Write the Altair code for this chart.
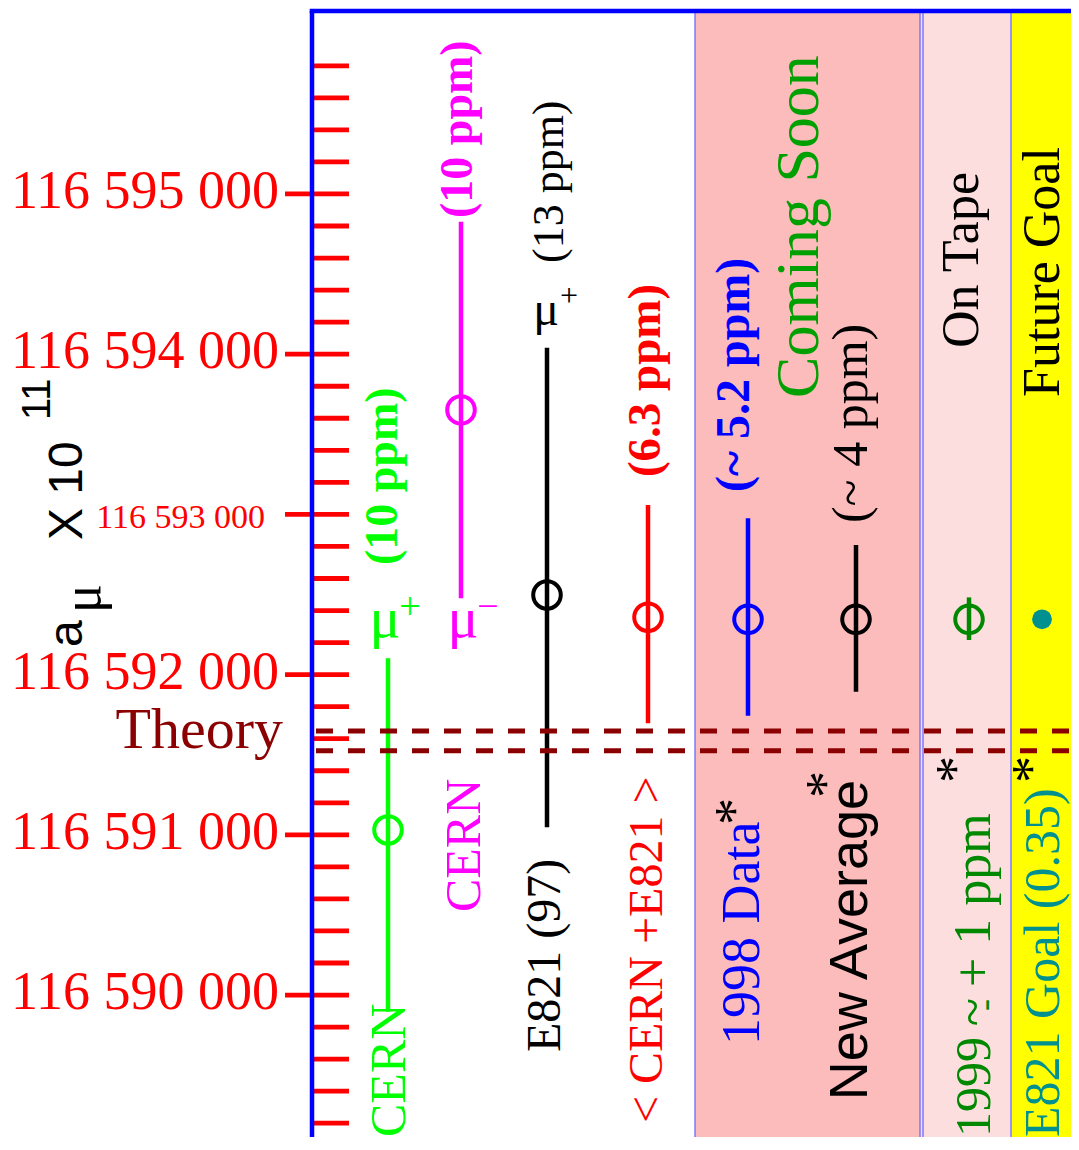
import altair as alt
import pandas as pd

# ---------------- data ----------------
experiments = ["CERN mu+", "CERN mu-", "E821 (97) mu+", "<CERN+E821>",
               "1998 Data", "New Average", "1999", "E821 Goal"]
central = [116591030, 116593652, 116592497, 116592358,
           116592345, 116592345, 116592345, 116592345]
err_low = [116589896, 116592476, 116591047, 116591696,
           116591743, 116591893, 116592216, 116592345]
err_high = [116592102, 116594827, 116594040, 116593059,
            116592976, 116592809, 116592482, 116592345]
theory_lines = [116591648, 116591525]

major_values = [116590000, 116591000, 116592000, 116593000, 116594000, 116595000]
major_labels = ["116 590 000", "116 591 000", "116 592 000",
                "116 593 000", "116 594 000", "116 595 000"]
minor_values = [116589200 + 200 * i for i in range(34)]

# ---------------- layout / style ----------------
Y_MIN, Y_MAX = 116589114, 116596142
X_MIN, X_MAX = 312, 1071
W, H = 759, 1126

column_x = [388, 461, 547, 648, 748, 856, 969, 1042]
colors = ["#00ff00", "#ff00ff", "#000000", "#ff0000",
          "#0000ff", "#000000", "#008800", "#009090"]
has_bar = [1, 1, 1, 1, 1, 1, 1, 0]
open_marker = [1, 1, 1, 1, 1, 1, 1, 0]

xs = alt.Scale(domain=[X_MIN, X_MAX], nice=False, zero=False)
ys = alt.Scale(domain=[Y_MIN, Y_MAX], nice=False, zero=False)


def X(f):
    return alt.X(f, type="quantitative", scale=xs, axis=None)


def Y(f):
    return alt.Y(f, type="quantitative", scale=ys, axis=None)


pts = pd.DataFrame({"name": experiments, "x": column_x, "v": central,
                    "lo": err_low, "hi": err_high, "c": colors,
                    "bar": has_bar, "open": open_marker})

bands = pd.DataFrame({
    "x1": [695, 920, 1011], "x2": [920, 1011, X_MAX],
    "y1": [Y_MIN] * 3, "y2": [Y_MAX] * 3,
    "c": ["#fcbcbc", "#fddede", "#ffff00"]})
band_lines = pd.DataFrame({"x": [695, 920, 923, 1011],
                           "y1": [Y_MIN] * 4, "y2": [Y_MAX] * 4})

layers = []
# bands
layers.append(alt.Chart(bands).mark_rect().encode(
    x=X("x1"), x2="x2", y=Y("y1"), y2="y2",
    color=alt.Color("c:N", scale=None)))
layers.append(alt.Chart(band_lines).mark_rule(color="#6a6aff", strokeWidth=1.3).encode(
    x=X("x"), y=Y("y1"), y2="y2"))

# ticks
minor_df = pd.DataFrame({"v": [m for m in minor_values if m not in major_values]})
minor_df["x1"] = 312
minor_df["x2"] = 349
layers.append(alt.Chart(minor_df).mark_rule(color="#ff0000", strokeWidth=4.8).encode(
    x=X("x1"), x2="x2", y=Y("v")))
major_df = pd.DataFrame({"v": major_values, "t": major_labels,
                         "x1": [285] * 6, "x2": [349] * 6,
                         "lx": [279, 279, 279, 265, 279, 279],
                         "s": [54, 54, 54, 34, 54, 54]})
layers.append(alt.Chart(major_df).mark_rule(color="#ff0000", strokeWidth=4.8).encode(
    x=X("x1"), x2="x2", y=Y("v")))
layers.append(alt.Chart(major_df).mark_text(
    font="Liberation Serif", align="right", baseline="alphabetic", dy=14, color="#ff0000").encode(
    x=X("lx"), y=Y("v"), text="t:N", size=alt.Size("s:Q", scale=None)))

# error bars
layers.append(alt.Chart(pts).transform_filter("datum.bar == 1").mark_rule(strokeWidth=4.5).encode(
    x=X("x"), y=Y("lo"), y2="hi", color=alt.Color("c:N", scale=None)))

# theory dashed lines
th = pd.DataFrame({"v": theory_lines, "x1": [316, 316], "x2": [X_MAX, X_MAX]})
layers.append(alt.Chart(th).mark_rule(color="#8b0000", strokeWidth=5, strokeDash=[17, 15]).encode(
    x=X("x1"), x2="x2", y=Y("v")))

# markers
layers.append(alt.Chart(pts).transform_filter("datum.open == 1").mark_point(
    shape="circle", filled=False, strokeWidth=4, size=760, opacity=1).encode(
    x=X("x"), y=Y("v"), color=alt.Color("c:N", scale=None)))
layers.append(alt.Chart(pts).transform_filter("datum.open == 0").mark_point(
    shape="circle", filled=True, size=390, opacity=1).encode(
    x=X("x"), y=Y("v"), color=alt.Color("c:N", scale=None)))

# ---------------- annotations ----------------
# (text, x, value, size, color, angle, font, weight, align)
SER, SANS = "Liberation Serif", "Liberation Sans"
notes = [
    ("Theory", 283, 116591542, 58, "#8b0000", 0, SER, "normal", "right"),
    ("a", 82, 116592172, 48, "#000000", 270, SANS, "normal", "left"),
    ("μ", 100, 116592384, 54, "#000000", 270, SER, "normal", "left"),
    ("X 10", 82, 116592840, 48, "#000000", 270, SANS, "normal", "left"),
    ("11", 50, 116593589, 40, "#000000", 270, SANS, "normal", "left"),
    ("(10 ppm)", 397, 116592684, 46, "#00ff00", 270, SER, "bold", "left"),
    ("μ", 385, 116592235, 58, "#00ff00", 0, SER, "normal", "center"),
    ("+", 410, 116592350, 38, "#00ff00", 0, SER, "normal", "center"),
    ("CERN", 405, 116589114, 50, "#00ff00", 270, SER, "normal", "left"),
    ("(10 ppm)", 472, 116594850, 46, "#ff00ff", 270, SER, "bold", "left"),
    ("μ", 463, 116592235, 58, "#ff00ff", 0, SER, "normal", "center"),
    ("−", 488, 116592350, 38, "#ff00ff", 0, SER, "normal", "center"),
    ("CERN", 480, 116590518, 50, "#ff00ff", 270, SER, "normal", "left"),
    ("μ", 546, 116594182, 48, "#000000", 0, SER, "normal", "center"),
    ("+", 569, 116594300, 32, "#000000", 0, SER, "normal", "center"),
    ("(13 ppm)", 563, 116594569, 44, "#000000", 270, SER, "normal", "left"),
    ("E821 (97)", 560, 116589644, 48, "#000000", 270, SER, "normal", "left"),
    ("(6.3 ppm)", 660, 116593233, 47, "#ff0000", 270, SER, "bold", "left"),
    ("< CERN +E821 >", 662, 116589201, 48, "#ff0000", 270, SER, "normal", "left"),
    ("(~ 5.2 ppm)", 749, 116593140, 48, "#0000ff", 270, SER, "bold", "left"),
    ("(~ 4 ppm)", 867, 116592946, 50, "#000000", 270, SER, "normal", "left"),
    ("Coming Soon", 818, 116593727, 62, "#00a000", 270, SER, "normal", "left"),
    ("1998 Data", 759, 116589688, 54, "#0000ff", 270, SER, "normal", "left"),
    ("*", 752, 116591061, 54, "#000000", 270, SER, "normal", "left"),
    ("New Average", 867, 116589344, 54, "#000000", 270, SANS, "normal", "left"),
    ("*", 843, 116591230, 54, "#000000", 270, SER, "normal", "left"),
    ("On Tape", 978, 116594039, 52, "#000000", 270, SER, "normal", "left"),
    ("Future Goal", 1059, 116593733, 52, "#000000", 270, SER, "normal", "left"),
    ("1999", 990, 116589114, 50, "#008800", 270, SER, "normal", "left"),
    ("~", 990, 116589806, 52, "#008800", 270, SER, "normal", "left"),
    ("-", 996, 116589900, 36, "#008800", 270, SER, "normal", "left"),
    ("+ 1 ppm", 990, 116590050, 52, "#008800", 270, SER, "normal", "left"),
    ("*", 973, 116591323, 54, "#000000", 270, SER, "normal", "left"),
    ("E821 Goal (0.35)", 1059, 116589114, 50, "#009090", 270, SER, "normal", "left"),
    ("*", 1049, 116591323, 54, "#000000", 270, SER, "normal", "left"),
]
nd = pd.DataFrame(notes, columns=["t", "x", "v", "s", "c", "a", "font", "w", "al"])
for (font, w, al), g in nd.groupby(["font", "w", "al"]):
    g = g[["t", "x", "v", "s", "c", "a"]].reset_index(drop=True)
    layers.append(alt.Chart(g).mark_text(font=font, fontWeight=w, align=al,
                                         baseline="alphabetic").encode(
        x=X("x"), y=Y("v"), text="t:N",
        size=alt.Size("s:Q", scale=None),
        color=alt.Color("c:N", scale=None),
        angle=alt.Angle("a:Q", scale=None)))

# frame (left and top blue lines)
frame = pd.DataFrame({"x1": [312, 309.7], "x2": [312, X_MAX],
                      "y1": [Y_MIN, Y_MAX], "y2": [Y_MAX, Y_MAX]})
layers.append(alt.Chart(frame).mark_rule(color="#0000ff", strokeWidth=4.5).encode(
    x=X("x1"), x2="x2", y=Y("y1"), y2="y2"))

chart = alt.layer(*layers).properties(
    width=W, height=H,
    autosize=alt.AutoSizeParams(type="none"),
    padding={"left": 304, "top": 3, "right": 0, "bottom": 0},
    background="white",
).configure_view(stroke=None)

chart.save("out.html", embed_options={"renderer": "svg", "actions": False})
